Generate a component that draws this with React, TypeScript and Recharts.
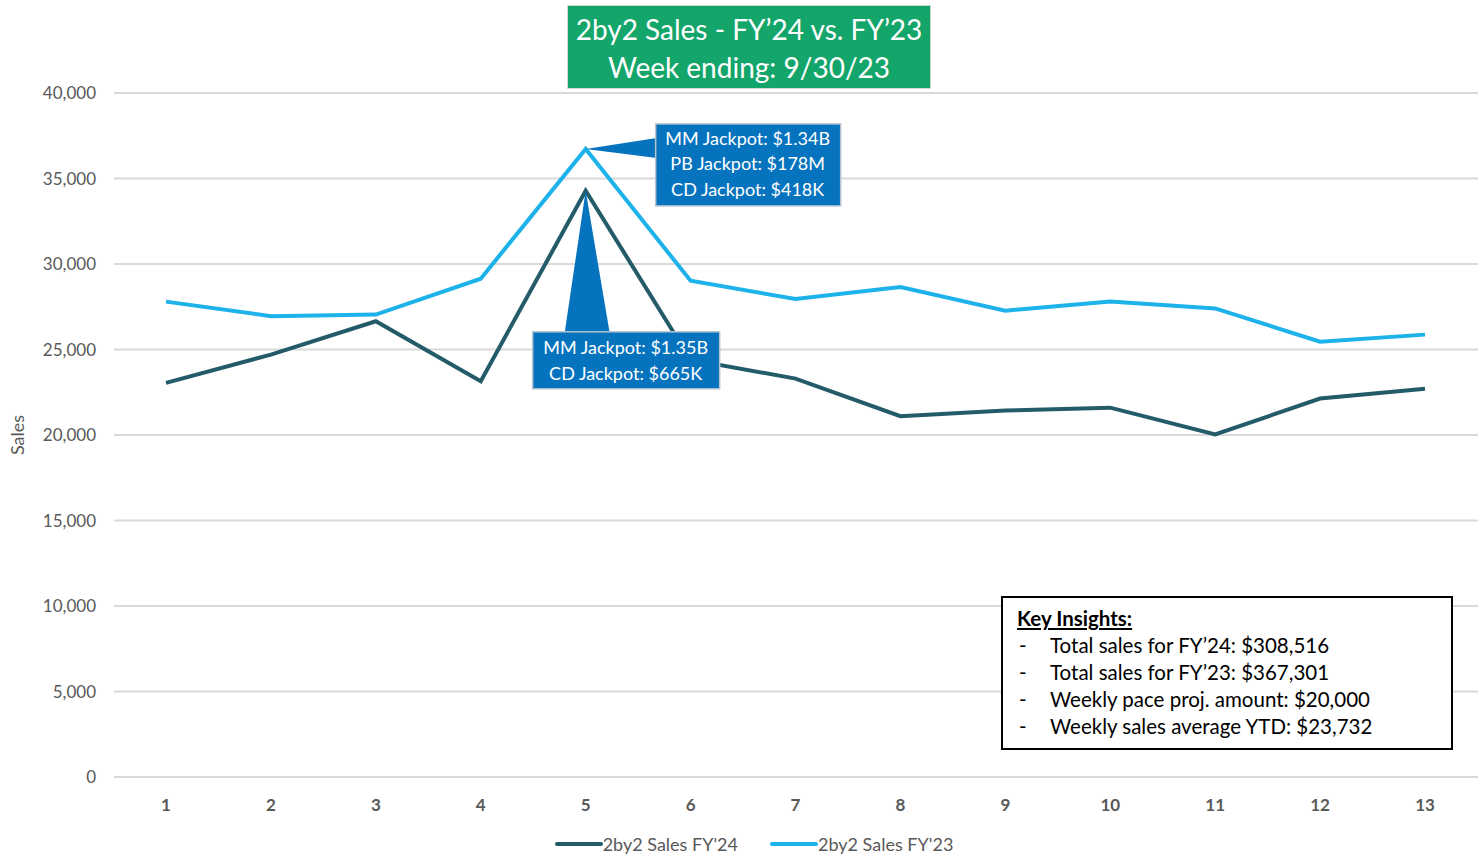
import React from "react";
import { LineChart, Line, XAxis, YAxis, CartesianGrid, Legend, ReferenceDot } from "recharts";

const weeks = ["1", "2", "3", "4", "5", "6", "7", "8", "9", "10", "11", "12", "13"];
const salesFY24 = [23050, 24700, 26650, 23150, 34280, 24400, 23300, 21100, 21430, 21600, 20030, 22130, 22710];
const salesFY23 = [27800, 26950, 27040, 29140, 36730, 29020, 27950, 28650, 27270, 27800, 27400, 25460, 25870];
const yTicks = [0, 5000, 10000, 15000, 20000, 25000, 30000, 35000, 40000];
const calloutFY23 = ["MM Jackpot: $1.34B", "PB Jackpot: $178M", "CD Jackpot: $418K"];
const calloutFY24 = ["MM Jackpot: $1.35B", "CD Jackpot: $665K"];
const insights = [
  "Total sales for FY\u201924: $308,516",
  "Total sales for FY\u201923: $367,301",
  "Weekly pace proj. amount: $20,000",
  "Weekly sales average YTD: $23,732",
];

const FONT = "Lato, 'Open Sans', sans-serif";
const DARK = "#245B69";
const LIGHT = "#1DB2EA";
const BOX = "#0673BE";

const data = weeks.map((w, i) => ({ week: w, fy24: salesFY24[i], fy23: salesFY23[i] }));

function CalloutRight(props: any) {
  const { cx, cy } = props;
  const x0 = cx + 70;
  return (
    <g>
      <polygon points={`${cx},${cy} ${x0 + 1},${cy - 11} ${x0 + 1},${cy + 9}`} fill={BOX} />
      <rect x={x0} y={cy - 25} width={185} height={82} fill={BOX} stroke="#b7c3d0" strokeWidth={1.5} />
      {calloutFY23.map((t, i) => (
        <text key={t} x={x0 + 92} y={cy - 4 + i * 25.5} textAnchor="middle" fill="#fff" fontSize={18} fontFamily={FONT}>
          {t}
        </text>
      ))}
    </g>
  );
}

function CalloutBelow(props: any) {
  const { cx, cy } = props;
  const y0 = cy + 141;
  return (
    <g>
      <polygon points={`${cx},${cy} ${cx - 21},${y0 + 1} ${cx + 24},${y0 + 1}`} fill={BOX} />
      <rect x={cx - 53} y={y0} width={187} height={57} fill={BOX} stroke="#b7c3d0" strokeWidth={1.5} />
      {calloutFY24.map((t, i) => (
        <text key={t} x={cx + 40} y={y0 + 22 + i * 26} textAnchor="middle" fill="#fff" fontSize={18} fontFamily={FONT}>
          {t}
        </text>
      ))}
    </g>
  );
}

function LegendContent() {
  const items = [
    { label: "2by2 Sales FY'24", color: DARK },
    { label: "2by2 Sales FY'23", color: LIGHT },
  ];
  return (
    <div style={{ display: "flex", justifyContent: "center", gap: 32, fontFamily: FONT, fontSize: 18, lineHeight: "22px", color: "#595959", paddingLeft: 30 }}>
      {items.map((it) => (
        <div key={it.label} style={{ display: "flex", alignItems: "center" }}>
          <span style={{ display: "inline-block", width: 48, height: 4, borderRadius: 2, background: it.color }} />
          <span>{it.label}</span>
        </div>
      ))}
    </div>
  );
}

export default function App() {
  return (
    <div style={{ position: "absolute", left: 0, top: 0, width: 1480, height: 855, background: "#fff", fontFamily: FONT }}>
      <LineChart width={1480} height={855} data={data} margin={{ top: 93, right: 2, left: 0, bottom: 0 }}>
        <CartesianGrid vertical={false} stroke="#d9d9d9" strokeWidth={2} />
        <XAxis
          dataKey="week"
          axisLine={false}
          tickLine={false}
          padding={{ left: 52, right: 53 }}
          height={56}
          tickMargin={16}
          tick={{ fill: "#595959", fontSize: 17, fontWeight: 700, fontFamily: FONT }}
        />
        <YAxis
          width={114}
          domain={[0, 40000]}
          ticks={yTicks}
          axisLine={false}
          tickLine={false}
          tickMargin={12}
          tickFormatter={(v: number) => v.toLocaleString("en-US")}
          tick={{ fill: "#595959", fontSize: 17, fontFamily: FONT }}
          label={{ value: "Sales", angle: -90, position: "insideLeft", dx: 13, style: { fill: "#595959", fontSize: 18, fontFamily: FONT, textAnchor: "middle" } }}
        />
        <Legend verticalAlign="bottom" height={22} content={<LegendContent />} />
        <Line type="linear" dataKey="fy24" name="2by2 Sales FY'24" stroke={DARK} strokeWidth={4} dot={false} isAnimationActive={false} />
        <Line type="linear" dataKey="fy23" name="2by2 Sales FY'23" stroke={LIGHT} strokeWidth={4} dot={false} isAnimationActive={false} />
        <ReferenceDot x="5" y={salesFY23[4]} r={0} ifOverflow="visible" shape={(p: any) => <CalloutRight {...p} />} />
        <ReferenceDot x="5" y={salesFY24[4]} r={0} ifOverflow="visible" shape={(p: any) => <CalloutBelow {...p} />} />
      </LineChart>

      <div
        style={{
          position: "absolute",
          left: 567,
          top: 5,
          width: 364,
          height: 84,
          background: "#14A56B",
          color: "#fff",
          fontSize: 28,
          lineHeight: "38px",
          textAlign: "center",
          boxSizing: "border-box",
          paddingTop: 4,
          border: "1px solid #cfd8d3",
        }}
      >
        <div>2by2 Sales - FY{"\u2019"}24 vs. FY{"\u2019"}23</div>
        <div>Week ending: 9/30/23</div>
      </div>

      <div
        style={{
          position: "absolute",
          left: 1001,
          top: 596,
          width: 452,
          height: 154,
          boxSizing: "border-box",
          border: "2px solid #000",
          background: "#fff",
          padding: "7px 14px",
          fontSize: 20.5,
          lineHeight: "27px",
          color: "#000",
        }}
      >
        <div style={{ fontWeight: 700, textDecoration: "underline" }}>Key Insights:</div>
        {insights.map((t) => (
          <div key={t} style={{ display: "flex" }}>
            <span style={{ width: 31, paddingLeft: 2 }}>-</span>
            <span>{t}</span>
          </div>
        ))}
      </div>
    </div>
  );
}
